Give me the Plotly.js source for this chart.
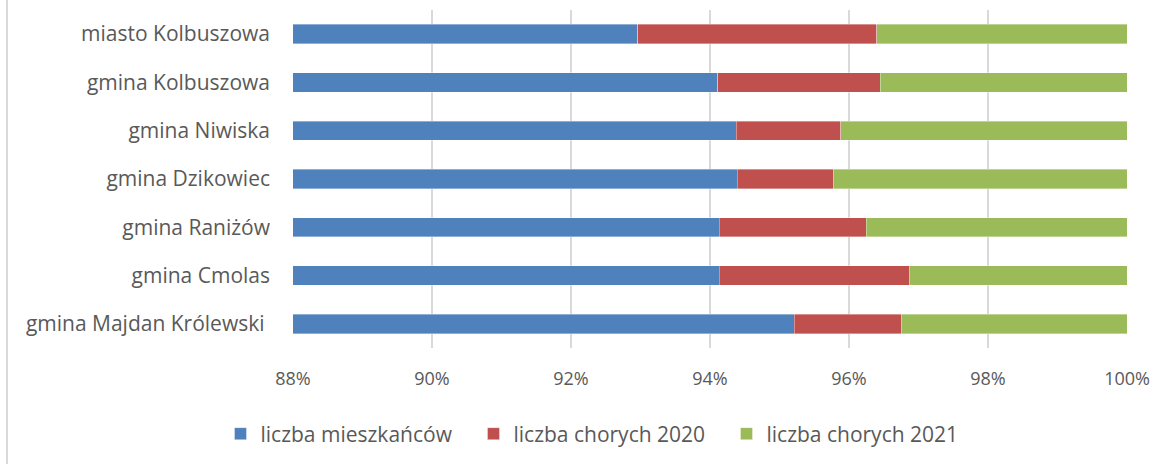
<!DOCTYPE html>
<html>
<head>
<meta charset="utf-8">
<script src="https://cdn.plot.ly/plotly-3.0.1.min.js"></script>
<style>
  html, body { margin: 0; padding: 0; background: #fff; }
  #wrap { position: relative; width: 1173px; height: 464px; }
  #chart { width: 1173px; height: 464px; }
  #edge { position: absolute; left: 6px; top: 0; width: 2px; height: 464px; background: #d9d9d9; }
</style>
</head>
<body>
<div id="wrap">
  <div id="chart"></div>
  <div id="edge"></div>
</div>
<script>
// Categories, top to bottom
const categories = [
  "miasto Kolbuszowa",
  "gmina Kolbuszowa",
  "gmina Niwiska",
  "gmina Dzikowiec",
  "gmina Raniżów",
  "gmina Cmolas",
  "gmina Majdan Królewski "
];
// Shares in percent (stacked to 100%)
const mieszkancow = [92.96, 94.11, 94.38, 94.39, 94.13, 94.13, 95.21];
const chorych2020 = [3.44, 2.34, 1.50, 1.38, 2.12, 2.74, 1.54];
const chorych2021 = [3.60, 3.55, 4.12, 4.23, 3.75, 3.13, 3.25];
const seriesNames = ["liczba mieszkańców", "liczba chorych 2020", "liczba chorych 2021"];
const seriesColors = ["#4F81BD", "#C0504D", "#9BBB59"];
const tickVals = [88, 90, 92, 94, 96, 98, 100];
const tickText = ["88%", "90%", "92%", "94%", "96%", "98%", "100%"];

const seriesData = [mieszkancow, chorych2020, chorych2021];
const traces = seriesData.map((vals, i) => ({
  type: "bar",
  orientation: "h",
  y: categories,
  x: vals,
  name: seriesNames[i],
  marker: { color: seriesColors[i], line: { color: "rgba(255,255,255,0.6)", width: 0.6 } },
  hoverinfo: "skip"
}));

const fam = "Open Sans, sans-serif";
const textFont = { family: fam, size: 21, color: "#595959" };
const tickFont = { family: fam, size: 18, color: "#595959" };

const layout = {
  width: 1173,
  height: 464,
  margin: { l: 293, r: 46, t: 9.5, b: 115.5, pad: 0, autoexpand: false },
  paper_bgcolor: "#ffffff",
  plot_bgcolor: "#ffffff",
  barmode: "stack",
  bargap: 0.6,
  font: textFont,
  showlegend: true,
  legend: {
    orientation: "h",
    xref: "container",
    yref: "container",
    x: 0.5115,
    xanchor: "center",
    y: 0.0647,
    yanchor: "middle",
    font: textFont,
    entrywidth: 208,
    entrywidthmode: "pixels",
    traceorder: "normal",
    itemclick: false,
    itemdoubleclick: false
  },
  xaxis: {
    range: [88, 100],
    tickvals: tickVals,
    ticktext: tickText,
    showgrid: true,
    gridcolor: "#d9d9d9",
    gridwidth: 2,
    zeroline: false,
    showline: false,
    ticks: "",
    ticklabelstandoff: 18,
    tickfont: tickFont,
    fixedrange: true
  },
  yaxis: {
    type: "category",
    autorange: "reversed",
    showgrid: false,
    zeroline: false,
    showline: false,
    ticks: "",
    ticklabelstandoff: 22,
    tickfont: textFont,
    fixedrange: true
  }
};

Plotly.newPlot("chart", traces, layout, { displayModeBar: false, staticPlot: true });
</script>
</body>
</html>
